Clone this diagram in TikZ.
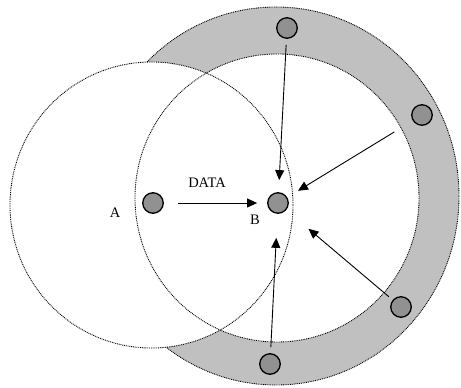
\documentclass[tikz,border=0pt]{standalone}
\usepackage{fontspec}
\setmainfont{Liberation Serif}
\usetikzlibrary{arrows.meta}
\definecolor{ringgray}{RGB}{192,192,192}
\definecolor{nodegray}{RGB}{145,145,145}
\begin{document}
\begin{tikzpicture}[x=1pt,y=-1pt,
  station/.style={circle,draw=black,line width=1.3pt,fill=nodegray,minimum size=20.5pt,inner sep=0pt},
  rangeline/.style={line width=0.9pt,dash pattern=on 0.9pt off 0.9pt},
  arr/.style={line width=0.9pt,-{Triangle[length=10pt,width=9pt]}},
  lbl/.style={font=\fontsize{14.5}{17}\selectfont,inner sep=0pt}]
\useasboundingbox (0,0) rectangle (461,388);
% grey ring
\fill[ringgray] (276,196) ellipse [x radius=183, y radius=189];
\draw[rangeline] (276,196) ellipse [x radius=183, y radius=189];
\fill[white] (277,198) ellipse [x radius=142, y radius=144];
% range of A
\fill[white] (151.5,205) ellipse [x radius=141.5, y radius=143];
\draw[rangeline] (151.5,205) ellipse [x radius=141.5, y radius=143];
% range of B (inner edge of ring)
\draw[rangeline] (277,198) ellipse [x radius=142, y radius=144];
% stations
\node[station] (A) at (153,203) {};
\node[station] (B) at (278,203) {};
\node[station] (T) at (287,28) {};
\node[station] (RU) at (422,115) {};
\node[station] (RL) at (401,307) {};
\node[station] (BT) at (270,364) {};
% labels
\node[lbl] (lA) at (115,213) {A};
\node[lbl] (lB) at (255,220) {B};
\node[lbl] (lD) at (207,183) {DATA};
% arrows
\draw[arr,shorten <=14pt,shorten >=10pt] (A) -- (B);
\draw[arr,shorten <=6pt,shorten >=12pt] (T) -- (B);
\draw[arr,shorten <=21.5pt,shorten >=12.5pt] (RU) -- (B);
\draw[arr,shorten <=5pt,shorten >=29pt] (RL) -- (B);
\draw[arr,shorten <=6pt,shorten >=24pt] (BT) -- (B);
\end{tikzpicture}
\end{document}
